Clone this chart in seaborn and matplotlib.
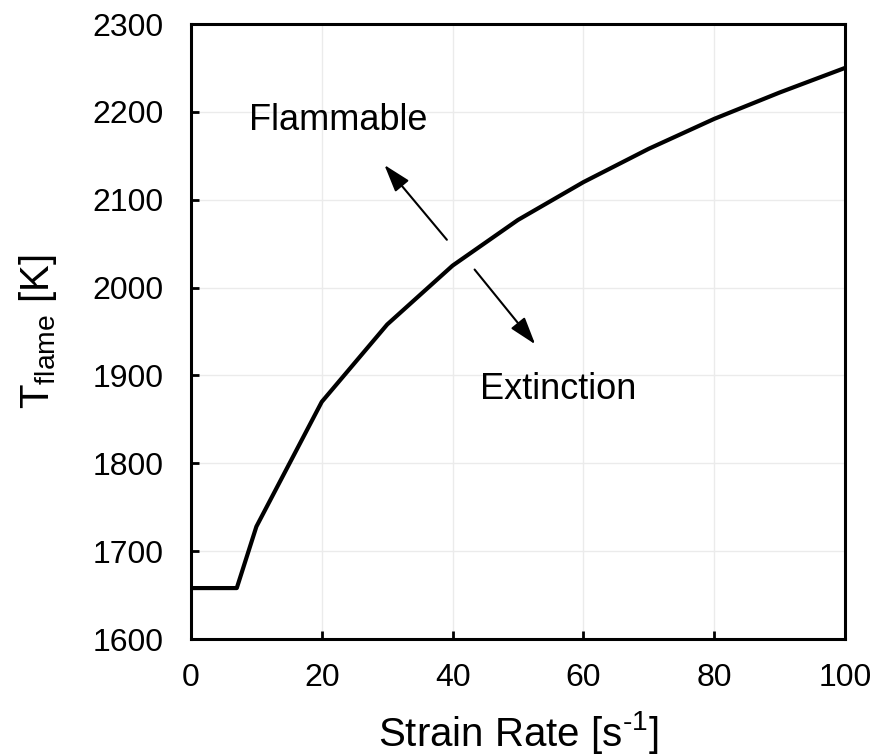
import matplotlib
matplotlib.use("Agg")
import matplotlib.pyplot as plt
import seaborn as sns
import pandas as pd

# data
strain_rate = [0, 7, 10, 20, 30, 40, 50, 60, 70, 80, 90, 100]
t_flame = [1658, 1658, 1728, 1870, 1958, 2025, 2077, 2120, 2158, 2192, 2222, 2250]

x_ticks = [0, 20, 40, 60, 80, 100]
y_ticks = [1600, 1700, 1800, 1900, 2000, 2100, 2200, 2300]

sns.set_theme(style="white")
plt.rcParams['font.family'] = ['Liberation Sans', 'DejaVu Sans']
plt.rcParams['mathtext.fontset'] = 'custom'
plt.rcParams['mathtext.rm'] = 'Liberation Sans'
plt.rcParams['mathtext.it'] = 'Liberation Sans'
plt.rcParams['text.color'] = 'black'
plt.rcParams['axes.labelcolor'] = 'black'

df = pd.DataFrame({'rate': strain_rate, 'temp': t_flame})

fig, ax = plt.subplots(figsize=(8.9, 7.55), dpi=100)
fig.subplots_adjust(left=0.2146, right=0.9494, top=0.9682, bottom=0.1536)

sns.lineplot(data=df, x='rate', y='temp', ax=ax, color='black', linewidth=3.0)

ax.set_xlim(0, 100)
ax.set_ylim(1600, 2300)
ax.set_xticks(x_ticks)
ax.set_yticks(y_ticks)
ax.grid(True, color='#ebebeb', linewidth=1.0)
ax.tick_params(axis='both', labelsize=23, direction='in', length=6, width=2,
               colors='black', top=False, right=False, left=True, bottom=True)
ax.tick_params(axis='x', pad=17)
ax.tick_params(axis='y', pad=20)
for sp in ax.spines.values():
    sp.set_color('black')
    sp.set_linewidth(2.2)

ax.set_xlabel(r'Strain Rate [s$^{\mathrm{‐1}}$]', fontsize=29, labelpad=12)
ax.set_ylabel(r'T$_{\mathrm{flame}}$ [K]', fontsize=29, labelpad=24)

arrow = dict(arrowstyle='-|>,head_length=1.4,head_width=0.45', color='black', lw=1.5)
ax.annotate('', xy=(29.3, 2142), xytext=(39.4, 2052), arrowprops=arrow)
ax.annotate('', xy=(52.9, 1933), xytext=(43.1, 2023), arrowprops=arrow)
ax.text(22.5, 2179, 'Flammable', fontsize=26, ha='center', va='baseline')
ax.text(56.2, 1873, 'Extinction', fontsize=26, ha='center', va='baseline')

plt.savefig('out.png', dpi=100)
plt.close()
